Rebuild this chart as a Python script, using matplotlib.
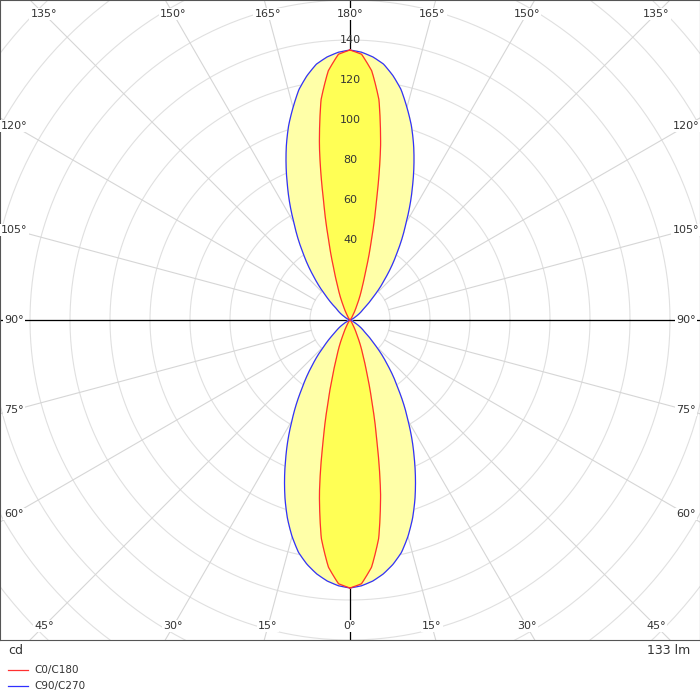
import matplotlib
matplotlib.use('Agg')
import matplotlib.pyplot as plt
import numpy as np

# ── Data (cd) ──────────────────────────────────────────────────────────────
gamma_deg = [0, 2.5, 5, 7.5, 10, 12.5, 15, 17.5, 20, 25, 30, 35, 40, 45, 50, 60, 70, 80, 90]
c0_c180 = [134, 132, 124, 110, 88, 62, 42, 28, 19, 8, 3, 1.5, 0.5, 0, 0, 0, 0, 0, 0]
c90_c270 = [134, 133, 131, 128, 124, 119, 112, 104, 95, 76, 58, 42, 29, 18, 10, 3, 0.5, 0, 0]
# upper lobe (gamma 180 -> 90)
c0_up = [135, 133, 125, 111, 88, 61, 41, 27, 18, 8, 3, 1.5, 0.5, 0, 0, 0, 0, 0, 0]
c90_up = [135, 134, 132, 129, 124, 118, 110, 102, 93, 74, 56, 41, 28, 17, 9, 3, 0.5, 0, 0]
ring_labels = [40, 60, 80, 100, 120, 140]
angle_ticks = [0, 15, 30, 45, 60, 75, 90, 105, 120, 135, 150, 165, 180]

RED = '#ff3030'
BLUE = '#3030ff'

fig = plt.figure(figsize=(7, 7), dpi=100)
ax = fig.add_axes([0, 60 / 700, 1, 640 / 700])
ax.set_xlim(-175, 175)
ax.set_ylim(-160, 160)
ax.set_xticks([])
ax.set_yticks([])
for s in ax.spines.values():
    s.set_color('#555555')

# rings
t = np.linspace(0, 2 * np.pi, 400)
for r in range(20, 260, 20):
    ax.plot(r * np.cos(t), r * np.sin(t), color='#e0e0e0', lw=0.8, zorder=1)

# radial lines
for g in range(0, 360, 15):
    a = np.radians(g)
    ax.plot([20 * np.sin(a), 300 * np.sin(a)], [-20 * np.cos(a), -300 * np.cos(a)],
            color='#d6d6d6', lw=0.8, zorder=1)
ax.axhline(0, color='black', lw=0.9, zorder=2)
ax.axvline(0, color='black', lw=0.9, zorder=2)


def lobe(vals, upper):
    g = np.radians(np.array(gamma_deg))
    v = np.array(vals)
    gf = np.linspace(0, g[-1], 400)
    vf = np.interp(gf, g, v)
    if upper:
        gf = np.pi - gf
    gg = np.concatenate([gf, -gf[::-1]])
    vv = np.concatenate([vf, vf[::-1]])
    return vv * np.sin(gg), -vv * np.cos(gg)


for upper, c0, c90 in [(False, c0_c180, c90_c270), (True, c0_up, c90_up)]:
    xb, yb = lobe(c90, upper)
    xr, yr = lobe(c0, upper)
    ax.fill(xb, yb, color='#ffffa8', zorder=3)
    ax.fill(xr, yr, color='#ffff55', zorder=3)
    ax.plot(xb, yb, color=BLUE, lw=0.9, zorder=4)
    ax.plot(xr, yr, color=RED, lw=0.9, zorder=4)

for r in ring_labels:
    ax.text(0, r, str(r), ha='center', va='center', fontsize=8, color='#333333', zorder=5)

# angle labels at border
for g in angle_ticks:
    a = np.radians(g)
    for side in ([1, -1] if g not in (0, 180) else [1]):
        dx, dy = side * np.sin(a), -np.cos(a)
        sx = 168 / abs(dx) if abs(dx) > 1e-9 else np.inf
        sy = 153 / abs(dy) if abs(dy) > 1e-9 else np.inf
        s = min(sx, sy)
        ax.text(dx * s, dy * s, f'{g}°', ha='center', va='center', fontsize=8,
                color='#333333', zorder=6,
                bbox=dict(facecolor='white', edgecolor='none', pad=1))

fig.text(8 / 700, 1 - 650 / 700, 'cd', ha='left', va='center', fontsize=9, color='#333333')
fig.text(690 / 700, 1 - 650 / 700, '133 lm', ha='right', va='center', fontsize=9, color='#333333')
for yy, c, lab in [(670, RED, 'C0/C180'), (686, BLUE, 'C90/C270')]:
    fig.add_artist(plt.Line2D([8 / 700, 28 / 700], [1 - yy / 700] * 2, color=c, lw=0.9))
    fig.text(34 / 700, 1 - yy / 700, lab, ha='left', va='center', fontsize=7.5, color='#333333')

fig.savefig('out.png', dpi=100)
